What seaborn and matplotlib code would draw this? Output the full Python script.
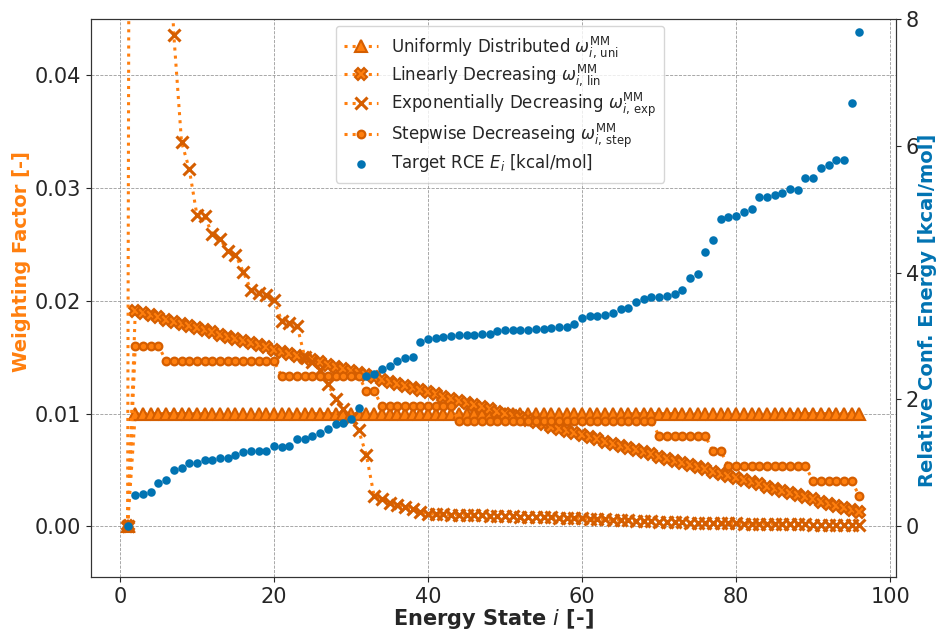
import matplotlib
matplotlib.use("Agg")
import matplotlib.pyplot as plt
import seaborn as sns

# ---------------- data ----------------
states = list(range(1, 97))

w_uni = [0.0] + [0.0100] * 95

w_lin = [0.0,
         0.01910, 0.01891, 0.01872, 0.01853, 0.01834, 0.01815, 0.01796, 0.01777, 0.01758,
         0.01739, 0.01720, 0.01701, 0.01682, 0.01663, 0.01644, 0.01625, 0.01606, 0.01587,
         0.01568, 0.01549, 0.01530, 0.01511, 0.01492, 0.01473, 0.01454, 0.01435, 0.01416,
         0.01397, 0.01378, 0.01359, 0.01340, 0.01321, 0.01302, 0.01283, 0.01264, 0.01245,
         0.01226, 0.01207, 0.01188, 0.01169, 0.01150, 0.01131, 0.01112, 0.01093, 0.01074,
         0.01055, 0.01036, 0.01017, 0.00998, 0.00979, 0.00960, 0.00941, 0.00922, 0.00903,
         0.00884, 0.00865, 0.00846, 0.00827, 0.00808, 0.00789, 0.00770, 0.00751, 0.00732,
         0.00713, 0.00694, 0.00675, 0.00656, 0.00637, 0.00618, 0.00599, 0.00580, 0.00561,
         0.00542, 0.00523, 0.00504, 0.00485, 0.00466, 0.00447, 0.00428, 0.00409, 0.00390,
         0.00371, 0.00352, 0.00333, 0.00314, 0.00295, 0.00276, 0.00257, 0.00238, 0.00219,
         0.00200, 0.00181, 0.00162, 0.00143, 0.00124]

w_exp = [0.0,
         0.300, 0.190, 0.120, 0.085, 0.058, 0.0436, 0.0341, 0.0317, 0.0276,
         0.0275, 0.0259, 0.0255, 0.0244, 0.0241, 0.0226, 0.0210, 0.0207, 0.0205,
         0.0201, 0.0182, 0.0180, 0.0178, 0.0150, 0.0146, 0.0139, 0.0126, 0.0113,
         0.0104, 0.0096, 0.0085, 0.0063, 0.0027, 0.0024, 0.0021, 0.0019, 0.0017,
         0.0015, 0.0013, 0.00110, 0.00108, 0.00106, 0.00104, 0.00102, 0.00100, 0.00098,
         0.00096, 0.00094, 0.00092, 0.00090, 0.00088, 0.00086, 0.00084, 0.00082, 0.00080,
         0.00078, 0.00076, 0.00074, 0.00072, 0.00070, 0.00067, 0.00064, 0.00061, 0.00058,
         0.00055, 0.00052, 0.00049, 0.00046, 0.00043, 0.00040, 0.00038, 0.00036, 0.00034,
         0.00032, 0.00030, 0.00029, 0.00028, 0.00027, 0.00026, 0.00025, 0.00024, 0.00023,
         0.00022, 0.00021, 0.00020, 0.00019, 0.00018, 0.00017, 0.00016, 0.00015, 0.00014,
         0.00013, 0.00012, 0.00011, 0.00010, 0.00009]

w_step = ([0.0] + [0.01600] * 4 + [0.01467] * 15 + [0.01333] * 11 + [0.01200] * 2
          + [0.01067] * 10 + [0.00933] * 26 + [0.00800] * 7 + [0.00667] * 2
          + [0.00533] * 11 + [0.00400] * 6 + [0.00267] * 1)

energy = [0.00, 0.49, 0.51, 0.54, 0.68, 0.73, 0.88, 0.92, 1.00, 1.00,
          1.04, 1.05, 1.08, 1.08, 1.13, 1.17, 1.18, 1.18, 1.19, 1.26,
          1.25, 1.26, 1.37, 1.38, 1.43, 1.47, 1.54, 1.61, 1.63, 1.69,
          1.87, 2.37, 2.40, 2.48, 2.52, 2.61, 2.66, 2.67, 2.91, 2.95,
          2.97, 2.98, 3.00, 3.01, 3.02, 3.02, 3.03, 3.03, 3.08, 3.09,
          3.09, 3.09, 3.10, 3.11, 3.11, 3.12, 3.14, 3.15, 3.19, 3.29,
          3.31, 3.32, 3.33, 3.37, 3.43, 3.44, 3.54, 3.58, 3.61, 3.62,
          3.63, 3.66, 3.73, 3.92, 3.98, 4.33, 4.51, 4.85, 4.88, 4.90,
          4.95, 5.00, 5.19, 5.20, 5.23, 5.26, 5.32, 5.31, 5.50, 5.50,
          5.65, 5.69, 5.77, 5.78, 6.68, 7.80]

labels = [r"Uniformly Distributed $\omega_{i,\,\mathrm{uni}}^{\mathrm{MM}}$",
          r"Linearly Decreasing $\omega_{i,\,\mathrm{lin}}^{\mathrm{MM}}$",
          r"Exponentially Decreasing $\omega_{i,\,\mathrm{exp}}^{\mathrm{MM}}$",
          r"Stepwise Decreaseing $\omega_{i,\,\mathrm{step}}^{\mathrm{MM}}$",
          r"Target RCE $E_i$ [kcal/mol]"]

# ---------------- style ----------------
LINE = "#ff7f0e"
EDGE = "#d55e00"
BLUE = "#0173b2"

sns.set_style("ticks")
plt.rcParams["font.family"] = ["DejaVu Sans"]
plt.rcParams["mathtext.fontset"] = "dejavusans"

fig, ax = plt.subplots(figsize=(9.4, 6.29), dpi=100)
fig.subplots_adjust(left=91 / 940, right=896 / 940, top=1 - 19 / 629, bottom=1 - 577 / 629)
ax.set_axisbelow(True)
ax.grid(True, linestyle="--", color="#9a9a9a", linewidth=0.6)

common = dict(ax=ax, linestyle=":", color=LINE, linewidth=2.2, estimator=None,
              markeredgecolor=EDGE)
sns.lineplot(x=states, y=w_uni, marker="^", markersize=8.5, markerfacecolor=LINE,
             markeredgewidth=1.5, label=labels[0], **common)
sns.lineplot(x=states, y=w_lin, marker="X", markersize=9, markerfacecolor=LINE,
             markeredgewidth=1.5, label=labels[1], **common)
sns.lineplot(x=states, y=w_exp, marker="x", markersize=8.5, markerfacecolor=EDGE,
             markeredgewidth=2.2, label=labels[2], **common)
sns.lineplot(x=states, y=w_step, marker="o", markersize=5.5, markerfacecolor=LINE,
             markeredgewidth=1.6, label=labels[3], **common)

ax2 = ax.twinx()
sns.scatterplot(x=states, y=energy, ax=ax2, color=BLUE, s=38, linewidth=0,
                label=labels[4])

ax.set_xlim(-3.75, 100.75)
ax.set_ylim(-0.0045, 0.045)
ax2.set_ylim(-0.8, 8.0)
ax.set_xticks([0, 20, 40, 60, 80, 100])
ax.set_yticks([0.00, 0.01, 0.02, 0.03, 0.04])
ax.set_yticklabels(["0.00", "0.01", "0.02", "0.03", "0.04"])
ax2.set_yticks([0, 2, 4, 6, 8])

ax.tick_params(labelsize=15)
ax2.tick_params(labelsize=15)
ax.set_xlabel(r"Energy State $i$ [-]", fontsize=15, fontweight="bold", labelpad=0)
ax.set_ylabel("Weighting Factor [-]", fontsize=14, fontweight="bold", color=LINE)
ax2.set_ylabel("Relative Conf. Energy [kcal/mol]", fontsize=14, fontweight="bold",
               color=BLUE)
ax.yaxis.set_label_coords(-0.075, 0.5645)
ax2.yaxis.set_label_coords(1.027, 0.478)
for a in (ax, ax2):
    for s in a.spines.values():
        s.set_visible(True)
        s.set_color("#333333")

h1, l1 = ax.get_legend_handles_labels()
h2, l2 = ax2.get_legend_handles_labels()
if ax.get_legend() is not None:
    ax.get_legend().remove()
if ax2.get_legend() is not None:
    ax2.get_legend().remove()
ax2.legend(h1 + h2, l1 + l2, loc="upper left",
           bbox_to_anchor=((336 - 91) / 805, (577 - 26) / 558),
           borderaxespad=0, fontsize=12, frameon=True, labelspacing=0.15,
           borderpad=0.5)

fig.savefig("out.png", dpi=100)
